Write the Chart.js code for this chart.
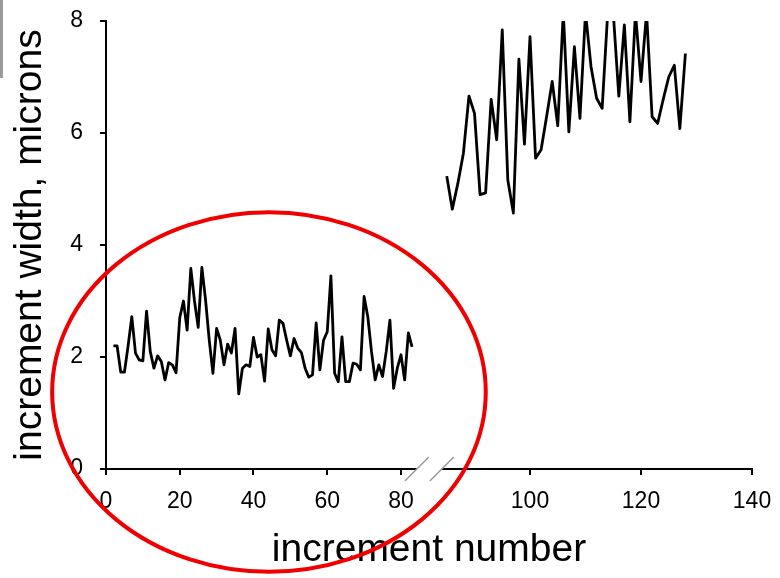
<!DOCTYPE html>
<html>
<head>
<meta charset="utf-8">
<script src="https://cdn.jsdelivr.net/npm/chart.js@4.4.0/dist/chart.umd.min.js"></script>
<style>
  html, body { margin: 0; padding: 0; background: #fff; }
  canvas { display: block; }
</style>
</head>
<body>
<canvas id="incrementChart" width="780" height="578"></canvas>
<script>
// increment number / width (microns)
const leftIncrements = [2, 3, 4, 5, 6, 7, 8, 9, 10, 11, 12, 13, 14, 15, 16, 17, 18, 19, 20,
  21, 22, 23, 24, 25, 26, 27, 28, 29, 30, 31, 32, 33, 34, 35, 36, 37, 38, 39, 40,
  41, 42, 43, 44, 45, 46, 47, 48, 49, 50, 51, 52, 53, 54, 55, 56, 57, 58, 59, 60,
  61, 62, 63, 64, 65, 66, 67, 68, 69, 70, 71, 72, 73, 74, 75, 76, 77, 78, 79, 80,
  81, 82, 83];
const leftWidths = [2.2, 2.2, 1.73, 1.73, 2.2, 2.72, 2.07, 1.95, 1.93, 2.82, 2.1, 1.8, 2.02, 1.92, 1.59, 1.9, 1.86, 1.72, 2.7,
  3.0, 2.48, 3.58, 3.0, 2.53, 3.6, 3.02, 2.3, 1.71, 2.51, 2.3, 1.86, 2.23, 2.07, 2.51, 1.34, 1.8, 1.86, 1.83, 2.35,
  2.0, 2.04, 1.57, 2.5, 2.13, 2.02, 2.66, 2.6, 2.3, 2.02, 2.33, 2.16, 2.08, 1.8, 1.64, 1.68, 2.61, 1.77, 2.3, 2.45,
  3.45, 1.71, 1.56, 2.36, 1.56, 1.56, 1.89, 1.87, 1.77, 3.08, 2.72, 2.1, 1.59, 1.86, 1.65, 2.1, 2.66, 1.44, 1.8, 2.04,
  1.59, 2.43, 2.18];

const rightIncrements = [85, 86, 87, 88, 89, 90, 91, 92, 93, 94, 95, 96, 97, 98, 99, 100,
  101, 102, 103, 104, 105, 106, 107, 108, 109, 110, 111, 112, 113, 114, 115, 116, 117, 118, 119, 120,
  121, 122, 123, 124, 125, 126, 127, 128];
const rightWidths = [5.23, 4.64, 5.1, 5.64, 6.66, 6.35, 4.9, 4.93, 6.6, 5.88, 7.84, 5.16, 4.57, 7.32, 5.8, 7.72,
  5.55, 5.7, 6.3, 6.92, 6.13, 8.15, 6.02, 7.54, 6.26, 8.15, 7.18, 6.62, 6.44, 8.15, 8.15, 6.66, 7.93, 6.2, 8.15, 6.92,
  8.15, 6.29, 6.17, 6.6, 7.0, 7.21, 6.08, 7.42];

const leftTicks = [0, 20, 40, 60, 80];
const rightTicks = [100, 120, 140];
const widthTicks = [0, 2, 4, 6, 8];

// the x axis is broken: two scales with different spacing share the bottom edge
const leftRange = [0, 175.2];
const rightRange = [23.6, 140];
const leftAxisEnd = 84.3;
const rightAxisStart = 84.1;

// red ring drawn around the first part (x in left-scale units)
const ring = { x: 44.2, y: 1.375, rx: 58.8, ry: 3.21 };

const FONT = "'Liberation Sans', Arial, sans-serif";
Chart.defaults.font.family = FONT;
Chart.defaults.color = '#000';

const toPoints = (xs, ys) => xs.map((x, i) => ({ x: x, y: ys[i] }));

// keep the plot area where the layout padding puts it
const noPad = s => { s.paddingTop = 0; s.paddingBottom = 0; s.paddingLeft = 0; s.paddingRight = 0; };

const brokenAxis = {
  id: 'brokenAxis',
  afterLayout(chart) {
    const { x1, x2 } = chart.scales;
    x2.top = x1.top;
    x2.bottom = x1.bottom;
  },
  afterDraw(chart) {
    const { ctx, scales: { x1, x2, y } } = chart;
    const axisY = x1.top;
    const gapL = x1.getPixelForValue(leftAxisEnd);
    const gapR = x2.getPixelForValue(rightAxisStart);
    ctx.save();
    // open the gap in the axis line and mark it
    ctx.fillStyle = '#fff';
    ctx.fillRect(gapL, axisY - 3, gapR - gapL, 6);
    ctx.strokeStyle = '#9a9a9a';
    ctx.lineWidth = 1.5;
    [gapL, gapR].forEach(px => {
      ctx.beginPath();
      ctx.moveTo(px - 12, axisY + 12);
      ctx.lineTo(px + 12, axisY - 12);
      ctx.stroke();
    });
    // grey edge of the slide frame, top left
    ctx.fillStyle = '#9a9a9a';
    ctx.fillRect(0, 0, 3, 78);
    // red ring
    const cx = x1.getPixelForValue(ring.x);
    const cy = y.getPixelForValue(ring.y);
    const rx = x1.getPixelForValue(ring.x + ring.rx) - cx;
    const ry = cy - y.getPixelForValue(ring.y + ring.ry);
    ctx.strokeStyle = 'rgb(240,0,0)';
    ctx.lineWidth = 4;
    ctx.beginPath();
    ctx.ellipse(cx, cy, rx, ry, 0, 0, Math.PI * 2);
    ctx.stroke();
    ctx.restore();
  }
};

const lineStyle = {
  borderColor: '#000',
  borderWidth: 2.8,
  borderJoinStyle: 'round',
  pointRadius: 0,
  tension: 0,
  fill: false
};

new Chart(document.getElementById('incrementChart'), {
  type: 'line',
  data: {
    datasets: [
      Object.assign({ label: 'early', data: toPoints(leftIncrements, leftWidths), xAxisID: 'x1', yAxisID: 'y' }, lineStyle),
      Object.assign({ label: 'late', data: toPoints(rightIncrements, rightWidths), xAxisID: 'x2', yAxisID: 'y' }, lineStyle)
    ]
  },
  options: {
    responsive: false,
    animation: false,
    layout: { autoPadding: false, padding: { left: 0, top: 21, right: 28, bottom: 0 } },
    plugins: { legend: { display: false }, tooltip: { enabled: false } },
    scales: {
      x1: {
        type: 'linear',
        position: 'bottom',
        min: leftRange[0],
        max: leftRange[1],
        afterFit: s => { s.height = 109; noPad(s); },
        afterBuildTicks: s => { s.ticks = leftTicks.map(v => ({ value: v })); },
        grid: { drawOnChartArea: false, drawTicks: true, tickLength: 6, color: '#000', lineWidth: 2 },
        border: { display: true, color: '#000', width: 2 },
        ticks: { font: { size: 23 }, padding: 13, maxRotation: 0, autoSkip: false },
        title: { display: true, text: 'increment number', font: { size: 39 }, padding: { top: 0, bottom: 4 } }
      },
      x2: {
        type: 'linear',
        position: 'bottom',
        min: rightRange[0],
        max: rightRange[1],
        afterFit: s => { s.height = 0; noPad(s); },
        afterBuildTicks: s => { s.ticks = rightTicks.map(v => ({ value: v })); },
        grid: { drawOnChartArea: false, drawTicks: true, tickLength: 6, color: '#000', lineWidth: 2 },
        border: { display: false },
        ticks: { font: { size: 23 }, padding: 13, maxRotation: 0, autoSkip: false }
      },
      y: {
        type: 'linear',
        position: 'left',
        min: 0,
        max: 8,
        afterFit: s => { s.width = 106; noPad(s); },
        afterBuildTicks: s => { s.ticks = widthTicks.map(v => ({ value: v })); },
        grid: { drawOnChartArea: false, drawTicks: true, tickLength: 6, color: '#000', lineWidth: 2 },
        border: { display: true, color: '#000', width: 2 },
        ticks: { font: { size: 23 }, padding: 17 },
        title: { display: true, text: 'increment width, microns', font: { size: 39 }, padding: { top: 7, bottom: 0 } }
      }
    }
  },
  plugins: [brokenAxis]
});
</script>
</body>
</html>
